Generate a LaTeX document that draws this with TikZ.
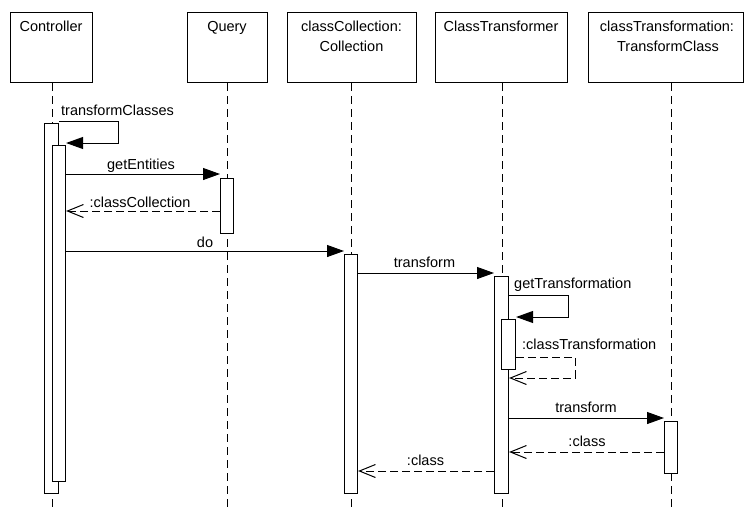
\documentclass[tikz,border=0pt]{standalone}
\usepackage{fontspec}
\setmainfont{Liberation Sans}
\usetikzlibrary{arrows.meta}
\begin{document}
\begin{tikzpicture}[x=1pt,y=-1pt,
  font=\fontsize{14.5}{18}\selectfont,
  head/.style={draw, line width=1.1pt, fill=white, inner sep=0, minimum height=70pt, anchor=north west},
  lifeline/.style={line width=0.9pt, dash pattern=on 8pt off 5pt},
  actbox/.style={draw, line width=1.1pt, fill=white, inner sep=0, anchor=north west},
  call/.style={line width=1pt, -{Triangle[length=17pt,width=12pt]}},
  reply/.style={line width=1pt, dash pattern=on 8pt off 4pt, -{Straight Barb[length=16pt,width=13pt]}},
  lbl/.style={inner sep=0, anchor=base},
  lbll/.style={inner sep=0, anchor=base west},
]
\useasboundingbox (0,0) rectangle (744,507);

% lifeline heads
\node[head, minimum width=82pt]  (hCtl) at (10,12)  {};
\node[head, minimum width=80pt]  (hQry) at (187,12) {};
\node[head, minimum width=129pt] (hCol) at (287,12) {};
\node[head, minimum width=132pt] (hTrf) at (435,12) {};
\node[head, minimum width=155pt] (hTcl) at (588,12) {};

% lifeline ends
\coordinate (eCtl) at (52,507);
\coordinate (eQry) at (227,507);
\coordinate (eCol) at (351,507);
\coordinate (eTrf) at (502,507);
\coordinate (eTcl) at (671,507);

\draw[lifeline] (hCtl.south -| eCtl) -- (eCtl);
\draw[lifeline] (hQry.south -| eQry) -- (eQry);
\draw[lifeline] (hCol.south -| eCol) -- (eCol);
\draw[lifeline] (hTrf.south -| eTrf) -- (eTrf);
\draw[lifeline] (hTcl.south -| eTcl) -- (eTcl);

% head titles
\node[lbl] (tCtl)  at (51,31)    {Controller};
\node[lbl] (tQry)  at (227,31)   {Query};
\node[lbl] (tCol1) at (351.5,31) {classCollection:};
\node[lbl] (tCol2) at (351.5,51) {Collection};
\node[lbl] (tTrf)  at (501,31)   {ClassTransformer};
\node[lbl] (tTcl1) at (667,31)   {classTransformation:};
\node[lbl] (tTcl2) at (668,51)   {TransformClass};

% activation bars
\node[actbox, minimum width=14pt, minimum height=370pt] (c1)  at (44,123)  {};
\node[actbox, minimum width=13pt, minimum height=336pt] (c2)  at (52,145)  {};
\node[actbox, minimum width=13pt, minimum height=55pt]  (q1)  at (220,178) {};
\node[actbox, minimum width=13pt, minimum height=239pt] (cc1) at (344,254) {};
\node[actbox, minimum width=14pt, minimum height=217pt] (ct1) at (494,276) {};
\node[actbox, minimum width=14pt, minimum height=50pt]  (ct2) at (501,319) {};
\node[actbox, minimum width=13pt, minimum height=52pt]  (tc1) at (664,421) {};

% messages
\draw[call] (c1.north east |- 0,121) -- (118,121) -- (118,143) -- (c2.east |- 0,143);
\node[lbll] (mTc) at (61,115) {transformClasses};

\draw[call] (c2.east |- 0,174) -- (q1.west |- 0,174);
\node[lbl] (mGe) at (141,169) {getEntities};

\draw[reply] (q1.west |- 0,211) -- (c2.east |- 0,211);
\node[lbl] (mCc) at (140,207) {:classCollection};

\draw[call] (c2.east |- 0,251) -- (cc1.west |- 0,251);
\node[lbl] (mDo) at (205,247) {do};

\draw[call] (cc1.east |- 0,273) -- (ct1.west |- 0,273);
\node[lbl] (mT1) at (424.5,267) {transform};

\draw[call] (ct1.east |- 0,295) -- (568,295) -- (568,317) -- (ct2.east |- 0,317);
\node[lbll] (mGt) at (514,288) {getTransformation};

\draw[reply] (ct2.east |- 0,357) -- (575,357) -- (575,378) -- (ct1.east |- 0,378);
\node[lbll] (mCt) at (522,349) {:classTransformation};

\draw[call] (ct1.east |- 0,418) -- (tc1.west |- 0,418);
\node[lbl] (mT2) at (586,412) {transform};

\draw[reply] (tc1.west |- 0,452) -- (ct1.east |- 0,452);
\node[lbl] (mC1) at (587,446) {:class};

\draw[reply] (ct1.west |- 0,471) -- (cc1.east |- 0,471);
\node[lbl] (mC2) at (425.5,465) {:class};
\end{tikzpicture}
\end{document}
